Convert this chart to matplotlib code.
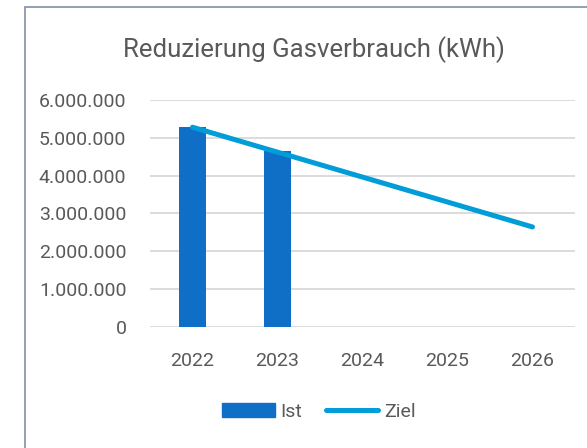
import matplotlib.pyplot as plt
from matplotlib.patches import Rectangle
from matplotlib.lines import Line2D
import numpy as np

years = ["2022", "2023", "2024", "2025", "2026"]
ist = [5280000, 4660000]
ziel = [5280000, 4620000, 3960000, 3300000, 2640000]
yticks = [0, 1000000, 2000000, 3000000, 4000000, 5000000, 6000000]
ytick_labels = ["0", "1.000.000", "2.000.000", "3.000.000", "4.000.000", "5.000.000", "6.000.000"]

plt.rcParams['font.family'] = ['Roboto', 'DejaVu Sans']
txt = '#595959'
bar_col = '#0F6FC6'
line_col = '#009DD9'

fig = plt.figure(figsize=(5.87, 4.48), dpi=100)
# chart frame (cut off at right and bottom)
fig.patches.append(Rectangle((25 / 587, -0.05), 1.0, 1.05 - 7 / 448,
                             transform=fig.transFigure, fill=False,
                             edgecolor='#7F8FA6', lw=1.2))

ax = fig.add_axes([150 / 587, 1 - 326.7 / 448, 425 / 587, 226.7 / 448])
x = np.arange(len(years))
ax.bar(x[:len(ist)], ist, width=0.31, color=bar_col, zorder=2)
ax.plot(x, ziel, color=line_col, lw=3.6, solid_capstyle='round', zorder=3)

ax.set_xlim(-0.5, len(years) - 0.5)
ax.set_ylim(0, 6000000)
ax.set_yticks(yticks)
ax.set_yticklabels(ytick_labels)
ax.set_xticks(x)
ax.set_xticklabels(years)
ax.grid(axis='y', color='#D9D9D9', lw=1.3, zorder=0)
ax.set_axisbelow(True)
for s in ax.spines.values():
    s.set_visible(False)
ax.tick_params(length=0, labelsize=14, colors=txt)
ax.tick_params(axis='y', pad=17)
ax.tick_params(axis='x', pad=18)

fig.text(314 / 587, 1 - 50 / 448, "Reduzierung Gasverbrauch (kWh)", ha='center',
         va='center', fontsize=18.5, color=txt)

handles = [Rectangle((0, 0), 1, 1, color=bar_col),
           Line2D([0], [0], color=line_col, lw=3.6, solid_capstyle='round')]
fig.legend(handles, ["Ist", "Ziel"], loc='center', bbox_to_anchor=(319 / 587, 1 - 412 / 448),
           ncol=2, frameon=False, fontsize=14, labelcolor=txt, handlelength=2.7,
           handleheight=0.75, handletextpad=0.3, columnspacing=1.2)

fig.savefig("out.png", dpi=100)
